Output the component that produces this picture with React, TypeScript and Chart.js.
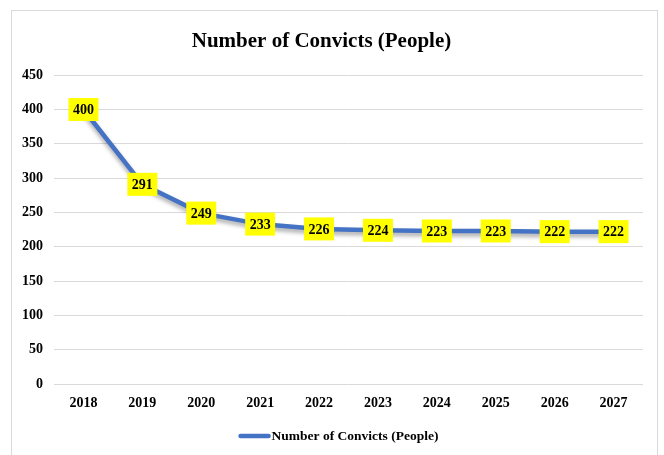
import React, { useEffect, useRef } from "react";
import { Chart, registerables } from "chart.js";

Chart.register(...registerables);

const years = ["2018", "2019", "2020", "2021", "2022", "2023", "2024", "2025", "2026", "2027"];
const convicts = [400, 291, 249, 233, 226, 224, 223, 223, 222, 222];
const seriesName = "Number of Convicts (People)";
const chartTitle = "Number of Convicts (People)";
const yMin = 0;
const yMax = 450;
const yStep = 50;

const FONT = '"Liberation Serif", "Times New Roman", serif';
const BLUE = "#4472C4";

const framePlugin = {
  id: "frame",
  beforeDraw(chart: any) {
    const ctx = chart.ctx;
    ctx.save();
    ctx.fillStyle = "#ffffff";
    ctx.fillRect(0, 0, chart.width, chart.height);
    ctx.strokeStyle = "#d9d9d9";
    ctx.lineWidth = 1;
    ctx.strokeRect(11.5, 10.5, 646, 470);
    ctx.restore();
  },
};

const shadowPlugin = {
  id: "lineShadow",
  beforeDatasetDraw(chart: any) {
    const ctx = chart.ctx;
    ctx.save();
    ctx.shadowColor = "rgba(0,0,0,0.35)";
    ctx.shadowBlur = 4;
    ctx.shadowOffsetX = 0;
    ctx.shadowOffsetY = 3;
  },
  afterDatasetDraw(chart: any) {
    chart.ctx.restore();
  },
};

const labelPlugin = {
  id: "yellowLabels",
  afterDatasetsDraw(chart: any) {
    const ctx = chart.ctx;
    const meta = chart.getDatasetMeta(0);
    const data = chart.data.datasets[0].data as number[];
    ctx.save();
    ctx.font = `bold 14px ${FONT}`;
    ctx.textAlign = "center";
    ctx.textBaseline = "middle";
    meta.data.forEach((pt: any, i: number) => {
      const txt = String(data[i]);
      const w = ctx.measureText(txt).width + 9;
      const h = 23;
      ctx.fillStyle = "#FFFF00";
      ctx.fillRect(pt.x - w / 2, pt.y - h / 2, w, h);
      ctx.fillStyle = "#000000";
      ctx.fillText(txt, pt.x, pt.y + 1);
    });
    ctx.restore();
  },
};

const legendPlugin = {
  id: "customLegend",
  afterDraw(chart: any) {
    const ctx = chart.ctx;
    const ds = chart.data.datasets[0];
    ctx.save();
    ctx.font = `bold 13.5px ${FONT}`;
    const tw = ctx.measureText(ds.label).width;
    const sw = 30;
    const gap = 3;
    const total = sw + gap + tw;
    const cx = (chart.chartArea.left + chart.chartArea.right) / 2 - 10;
    const x0 = cx - total / 2;
    const y = chart.height - 19;
    ctx.strokeStyle = ds.borderColor;
    ctx.lineWidth = 4.5;
    ctx.lineCap = "round";
    ctx.beginPath();
    ctx.moveTo(x0 + 2, y);
    ctx.lineTo(x0 + sw, y);
    ctx.stroke();
    ctx.fillStyle = "#000000";
    ctx.textAlign = "left";
    ctx.textBaseline = "middle";
    ctx.fillText(ds.label, x0 + sw + gap, y + 1);
    ctx.restore();
  },
};

export default function App() {
  const canvasRef = useRef<HTMLCanvasElement | null>(null);

  useEffect(() => {
    if (!canvasRef.current) return;
    const chart = new Chart(canvasRef.current, {
      type: "line",
      data: {
        labels: years,
        datasets: [
          {
            label: seriesName,
            data: convicts,
            borderColor: BLUE,
            backgroundColor: BLUE,
            borderWidth: 4.5,
            pointRadius: 0,
            pointHoverRadius: 0,
            tension: 0,
            borderJoinStyle: "round",
            borderCapStyle: "round",
          } as any,
        ],
      },
      options: {
        responsive: false,
        animation: false,
        events: [],
        layout: { padding: { left: 0, right: 21, top: 0, bottom: 35 } },
        plugins: {
          title: {
            display: true,
            text: chartTitle,
            color: "#000000",
            font: { family: FONT, size: 21, weight: "bold" },
            padding: { top: 29, bottom: 21 },
          },
          legend: { display: false },
          tooltip: { enabled: false },
        },
        scales: {
          x: {
            offset: true,
            grid: { display: false, drawTicks: false, offset: true },
            border: { display: false },
            ticks: {
              color: "#000000",
              font: { family: FONT, size: 14, weight: "bold" },
              padding: 11,
              maxRotation: 0,
            },
            afterFit(scale: any) {
              scale.height = 36;
            },
          },
          y: {
            min: yMin,
            max: yMax,
            grid: { color: "#d9d9d9", lineWidth: 1, drawTicks: false },
            border: { display: false },
            ticks: {
              stepSize: yStep,
              color: "#000000",
              font: { family: FONT, size: 14, weight: "bold" },
              padding: 11,
            },
            afterFit(scale: any) {
              scale.width = 54;
            },
          },
        },
      },
      plugins: [framePlugin, shadowPlugin, labelPlugin, legendPlugin],
    });
    return () => chart.destroy();
  }, []);

  return (
    <div
      style={{
        position: "fixed",
        left: 0,
        top: 0,
        width: 664,
        height: 455,
        background: "#ffffff",
        overflow: "hidden",
      }}
    >
      <canvas ref={canvasRef} width={664} height={455} style={{ display: "block" }} />
    </div>
  );
}
